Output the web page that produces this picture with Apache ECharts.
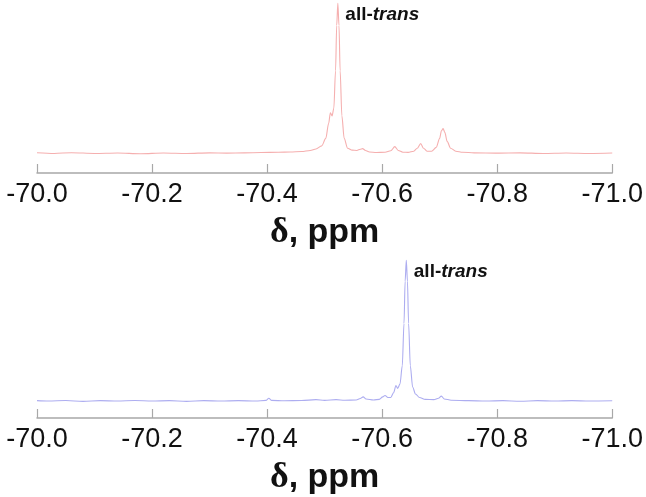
<!DOCTYPE html>
<html>
<head>
<meta charset="utf-8">
<script src="https://cdn.jsdelivr.net/npm/echarts@6/dist/echarts.min.js"></script>
<style>html,body{margin:0;padding:0;background:#fff}#c{width:646px;height:497px}</style>
</head>
<body>
<div id="c"></div>
<script>
// chemical shift tick labels (ppm)
const tickLabels = ["-70.0", "-70.2", "-70.4", "-70.6", "-70.8", "-71.0"];
const peakLabel = "all-trans";

// top spectrum: [delta ppm, relative intensity]
const topShift = [-70.00,-70.03,-70.06,-70.10,-70.14,-70.18,-70.22,-70.26,-70.30,-70.33,-70.36,-70.39,-70.42,-70.44,-70.46,-70.475,-70.485,-70.495,-70.502,-70.507,-70.510,-70.513,-70.516,-70.519,-70.521,-70.523,-70.525,-70.527,-70.530,-70.534,-70.540,-70.548,-70.556,-70.562,-70.566,-70.571,-70.578,-70.590,-70.605,-70.615,-70.622,-70.628,-70.636,-70.645,-70.655,-70.661,-70.667,-70.672,-70.678,-70.686,-70.694,-70.700,-70.703,-70.706,-70.709,-70.713,-70.719,-70.728,-70.74,-70.76,-70.80,-70.84,-70.88,-70.92,-70.96,-71.00];
const topIntensity = [0.5,0,0.5,0,0.3,-0.2,0.3,0,0.4,0.2,0.4,0.6,0.8,1.0,1.3,2.0,3.0,5.0,10,20,27,25,30,55,85,100,85,55,25,10,3.5,2.2,2.0,2.8,3.2,2.0,1.0,0.6,0.8,1.8,4.5,2.0,0.8,0.7,1.5,3.5,6.5,3.5,1.5,1.5,4.0,10,15,16.5,14,8,3.5,1.5,0.8,0.4,0.2,0.4,0,0.3,0,0.3];

// bottom spectrum
const botShift = [-70.00,-70.02,-70.05,-70.08,-70.11,-70.14,-70.17,-70.20,-70.23,-70.26,-70.29,-70.32,-70.35,-70.38,-70.398,-70.403,-70.408,-70.43,-70.46,-70.485,-70.50,-70.52,-70.535,-70.555,-70.562,-70.567,-70.572,-70.585,-70.595,-70.601,-70.605,-70.610,-70.615,-70.620,-70.624,-70.627,-70.631,-70.635,-70.638,-70.640,-70.642,-70.644,-70.646,-70.649,-70.653,-70.658,-70.665,-70.675,-70.69,-70.698,-70.703,-70.708,-70.72,-70.75,-70.78,-70.81,-70.84,-70.87,-70.90,-70.93,-70.96,-71.00];
const botIntensity = [0.3,0,0.4,-0.2,0.3,0,0.4,0,0.3,-0.2,0.3,0,0.3,0,0.5,2.0,0.5,0.2,0.4,1.0,0.5,1.0,0.6,0.8,1.8,3.0,1.5,0.8,1.2,3.0,4.0,2.5,2.5,6.0,11,9,12,25,55,85,100,85,55,25,10,5,2.5,1.2,1.0,2.0,3.5,1.5,0.6,0.3,0,0.3,-0.1,0.3,0,0.3,0,0.2];

const topPeak = [-70.523, 100];
const botPeak = [-70.642, 100];

function pairs(xs, ys){ return xs.map((x,i)=>[x, ys[i]]); }

const chart = echarts.init(document.getElementById('c'), null, {renderer:'canvas'});
const font = "'Liberation Sans', Arial, Helvetica, sans-serif";

function xAxisFor(gi){
  return {
    type:'value', gridIndex:gi, min:-71, max:-70, interval:0.2, inverse:true,
    axisLine:{show:true, onZero:false, lineStyle:{color:'#a8a8a8', width:1.5}},
    axisTick:{show:true, inside:true, length:9, lineStyle:{color:'#a8a8a8', width:1.2}},
    splitLine:{show:false},
    axisLabel:{
      color:'#111', fontSize:27, fontFamily:font, margin:8,
      formatter:function(v){ const i=Math.round((-70 - v)/0.2); return tickLabels[i]; }
    },
    name:'{d|δ}, ppm', nameLocation:'middle', nameGap:42,
    nameTextStyle:{color:'#111', fontSize:34, fontWeight:'bold', fontFamily:font,
      rich:{d:{fontSize:36, fontWeight:'bold', fontFamily:"'Liberation Serif', 'DejaVu Serif', serif", color:'#111'}}}
  };
}
function markFor(pt){
  return {
    symbol:'circle', symbolSize:1, itemStyle:{color:'rgba(0,0,0,0)'},
    data:[{coord:pt}],
    label:{
      show:true, position:'right', distance:7, offset:[0,12],
      formatter:'{a|all-}{b|trans}',
      rich:{
        a:{fontSize:19, fontWeight:'bold', color:'#111', fontFamily:font},
        b:{fontSize:19, fontWeight:'bold', fontStyle:'italic', color:'#111', fontFamily:font}
      }
    }
  };
}

chart.setOption({
  animation:false,
  backgroundColor:'#fff',
  grid:[
    {left:37, right:30, top:3, height:170},
    {left:37, right:30, top:260, height:160}
  ],
  xAxis:[xAxisFor(0), xAxisFor(1)],
  yAxis:[
    {type:'value', gridIndex:0, min:-13, max:100, show:false},
    {type:'value', gridIndex:1, min:-12, max:100, show:false}
  ],
  series:[
    {type:'line', xAxisIndex:0, yAxisIndex:0, data:pairs(topShift, topIntensity), showSymbol:false,
     smooth:0.3, smoothMonotone:'x', lineStyle:{color:'#f5afaf', width:1.1}, markPoint:markFor(topPeak)},
    {type:'line', xAxisIndex:1, yAxisIndex:1, data:pairs(botShift, botIntensity), showSymbol:false,
     smooth:0.3, smoothMonotone:'x', lineStyle:{color:'#adadf0', width:1.1}, markPoint:markFor(botPeak)}
  ]
});
</script>
</body>
</html>
